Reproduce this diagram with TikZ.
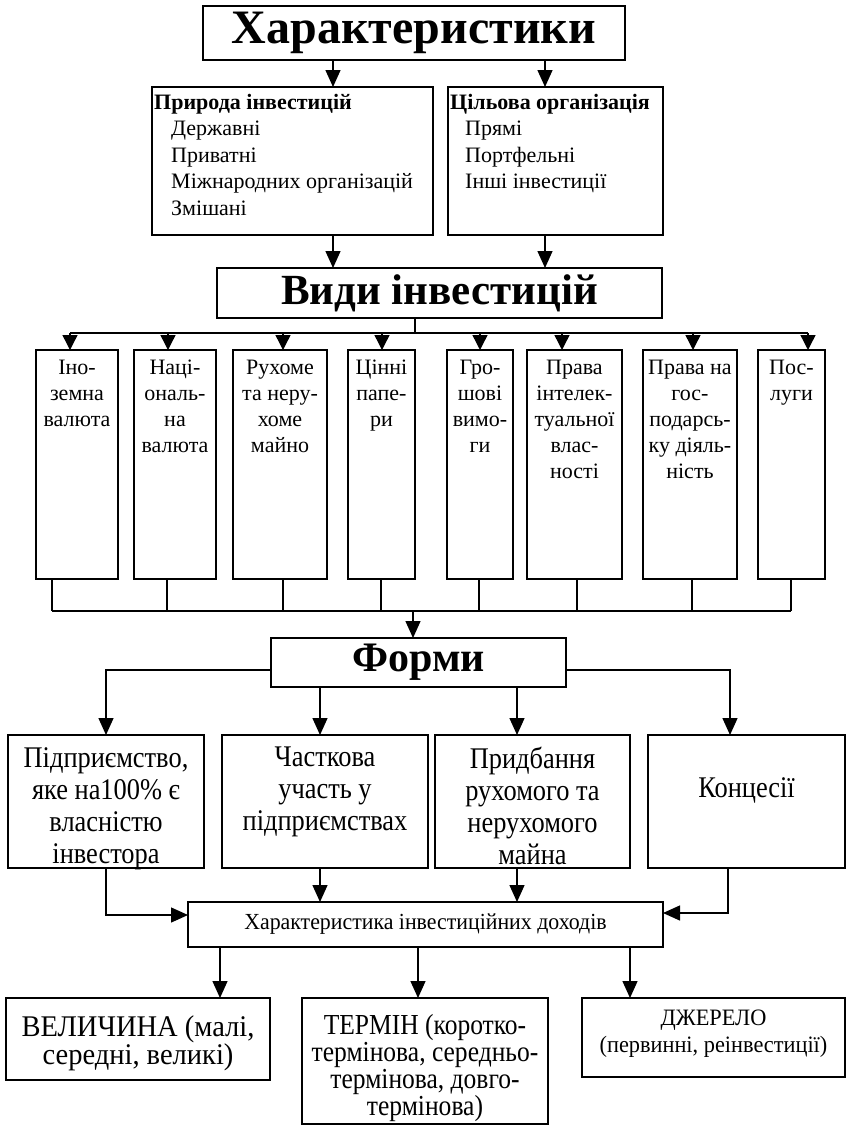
\documentclass[tikz,border=0pt]{standalone}
\usepackage{fontspec}
\setmainfont{Liberation Serif}
\newfontfamily\narrowserif{Liberation Serif}[FakeStretch=0.88]
\newfontfamily\lowserif{Liberation Serif}[FakeStretch=0.95]
\usetikzlibrary{arrows.meta,fit}
\begin{document}
\begin{tikzpicture}[x=1pt,y=-1pt,
  box/.style={draw, line width=1.4pt, inner sep=0pt, outer sep=0pt},
  link/.style={line width=1.4pt},
  arr/.style={line width=1.4pt, -{Triangle[length=17pt,width=15pt]}},
  sarr/.style={line width=1.4pt, -{Triangle[length=15pt,width=15pt]}},
  title/.style={inner sep=0pt, font=\fontsize{#1}{#1}\selectfont\bfseries},
  listtext/.style={anchor=north west, align=left, inner sep=0pt, font=\fontsize{22}{26.5}\selectfont},
  coltext/.style={anchor=north, align=center, inner sep=0pt, font=\fontsize{22}{26}\selectfont},
  formtext/.style={anchor=north, align=center, inner sep=0pt, font=\narrowserif\fontsize{30}{32}\selectfont},
  lowtext/.style={anchor=north, align=center, inner sep=0pt, font=\narrowserif\fontsize{29}{27}\selectfont},
]
\useasboundingbox (0,0) rectangle (847,1127);

% --- characteristics ---
\node[box, fit={(203,6)(625,60)}] (kh) {};
\node[title=48] (kht) at (kh.center) {Характеристики};
\node[box, fit={(152,87)(433,235)}] (pr) {};
\node[box, fit={(448,87)(663,235)}] (tsl) {};
\node[listtext] (prt) at (154,94) {\textbf{Природа інвестицій}\\
  \hspace*{17pt}Державні\\ \hspace*{17pt}Приватні\\
  \hspace*{17pt}Міжнародних організацій\\ \hspace*{17pt}Змішані};
\node[listtext] (tslt) at (450,94) {\textbf{Цільова організація}\\
  \hspace*{15pt}Прямі\\ \hspace*{15pt}Портфельні\\ \hspace*{15pt}Інші інвестиції};

\coordinate (xa) at (333,0);
\coordinate (xb) at (545,0);
\draw[arr] (kh.south -| xa) -- (pr.north -| xa);
\draw[arr] (kh.south -| xb) -- (tsl.north -| xb);

% --- kinds of investments ---
\node[box, fit={(217,268)(662,318)}] (vydy) {};
\node[title=43] (vydyt) at (vydy.center) {Види інвестицій};
\draw[arr] (pr.south -| xa) -- (vydy.north -| xa);
\draw[arr] (tsl.south -| xb) -- (vydy.north -| xb);

\node[box, fit={(36,350)(118,579)}] (c1) {};
\node[box, fit={(134,350)(216,579)}] (c2) {};
\node[box, fit={(233,350)(327,579)}] (c3) {};
\node[box, fit={(348,350)(415,579)}] (c4) {};
\node[box, fit={(447,350)(513,579)}] (c5) {};
\node[box, fit={(527,350)(622,579)}] (c6) {};
\node[box, fit={(643,350)(737,579)}] (c7) {};
\node[box, fit={(758,350)(825,579)}] (c8) {};

\node[coltext] (c1t) at (c1.north |- 0,360) {Іно-\\земна\\валюта};
\node[coltext] (c2t) at (c2.north |- 0,360) {Наці-\\ональ-\\на\\валюта};
\node[coltext] (c3t) at (c3.north |- 0,360) {Рухоме\\та неру-\\хоме\\майно};
\node[coltext] (c4t) at (c4.north |- 0,360) {Цінні\\папе-\\ри};
\node[coltext] (c5t) at (c5.north |- 0,360) {Гро-\\шові\\вимо-\\ги};
\node[coltext] (c6t) at (c6.north |- 0,360) {Права\\інтелек-\\туальної\\влас-\\ності};
\node[coltext] (c7t) at (c7.north |- 0,360) {Права на\\гос-\\подарсь-\\ку діяль-\\ність};
\node[coltext] (c8t) at (c8.north |- 0,360) {Пос-\\луги};

% upper bus with arrows into the columns
\coordinate (vx) at (415,333);
\foreach \n/\ax in {1/70,2/168,3/283,4/382,5/480,6/562,7/693,8/808}{
  \coordinate (t\n) at (\ax,333);
  \draw[sarr] (t\n) -- (c\n.north -| t\n);
}
\draw[link] (t1) -- (t8);
\draw[link] (vydy.south -| vx) -- (vx);

% lower bus collecting the columns
\foreach \n/\bx in {1/52,2/167,3/283,4/381,5/479,6/577,7/692,8/791}{
  \coordinate (u\n) at (\bx,611);
  \draw[link] (c\n.south -| u\n) -- (u\n);
}
\draw[link] (u1) -- (u8);

% --- forms ---
\node[box, fit={(271,638)(566,687)}] (forms) {};
\node[title=42] (formst) at (forms.center) {Форми};
\coordinate (ux) at (413,611);
\draw[arr] (ux) -- (forms.north -| ux);

\node[box, fit={(8,735)(204,868)}] (f1) {};
\node[box, fit={(222,735)(428,868)}] (f2) {};
\node[box, fit={(435,735)(630,868)}] (f3) {};
\node[box, fit={(648,735)(845,868)}] (f4) {};
\node[formtext] (f1t) at (f1.north |- 0,747) {Підприємство,\\яке на100\% є\\власністю\\інвестора};
\node[formtext] (f2t) at (f2.north |- 0,747) {Часткова\\участь у\\підприємствах};
\node[formtext] (f3t) at (f3.north |- 0,747) {Придбання\\рухомого та\\нерухомого\\майна};
\node[formtext] (f4t) at (f4.north |- 0,777) {Концесії};

\coordinate (fl) at (106,670);
\coordinate (fr) at (730,670);
\coordinate (f2x) at (320,0);
\coordinate (f3x) at (517,0);
\draw[arr] (forms.west |- fl) -- (fl) -- (f1.north -| fl);
\draw[arr] (forms.south -| f2x) -- (f2.north -| f2x);
\draw[arr] (forms.south -| f3x) -- (f3.north -| f3x);
\draw[arr] (forms.east |- fr) -- (fr) -- (f4.north -| fr);

% --- income characteristics ---
\node[box, fit={(188,902)(663,947)}] (inc) {};
\node[inner sep=0pt, font=\lowserif\fontsize{23}{23}\selectfont] (inct) at (inc.center) {Характеристика інвестиційних доходів};
\coordinate (il) at (106,915);
\coordinate (ir) at (728,913);
\draw[arr] (f1.south -| il) -- (il) -- (inc.west |- il);
\draw[arr] (f2.south -| f2x) -- (inc.north -| f2x);
\draw[arr] (f3.south -| f3x) -- (inc.north -| f3x);
\draw[arr] (f4.south -| ir) -- (ir) -- (inc.east |- ir);

\node[box, fit={(6,998)(270,1080)}] (b1) {};
\node[box, fit={(302,998)(548,1124)}] (b2) {};
\node[box, fit={(582,998)(845,1077)}] (b3) {};
\node[anchor=north, align=center, inner sep=0pt, font=\lowserif\fontsize{30}{27}\selectfont] (b1t) at (b1.north |- 0,1015) {ВЕЛИЧИНА (малі,\\середні, великі)};
\node[lowtext] (b2t) at (b2.north |- 0,1014) {ТЕРМІН (коротко-\\термінова, середньо-\\термінова, довго-\\термінова)};
\node[anchor=north, align=center, inner sep=0pt, font=\lowserif\fontsize{23.5}{27}\selectfont] (b3t) at (b3.north |- 0,1010) {ДЖЕРЕЛО\\(первинні, реінвестиції)};

\coordinate (o1) at (220,0);
\coordinate (o2) at (418,0);
\coordinate (o3) at (630,0);
\draw[arr] (inc.south -| o1) -- (b1.north -| o1);
\draw[arr] (inc.south -| o2) -- (b2.north -| o2);
\draw[arr] (inc.south -| o3) -- (b3.north -| o3);
\end{tikzpicture}
\end{document}
